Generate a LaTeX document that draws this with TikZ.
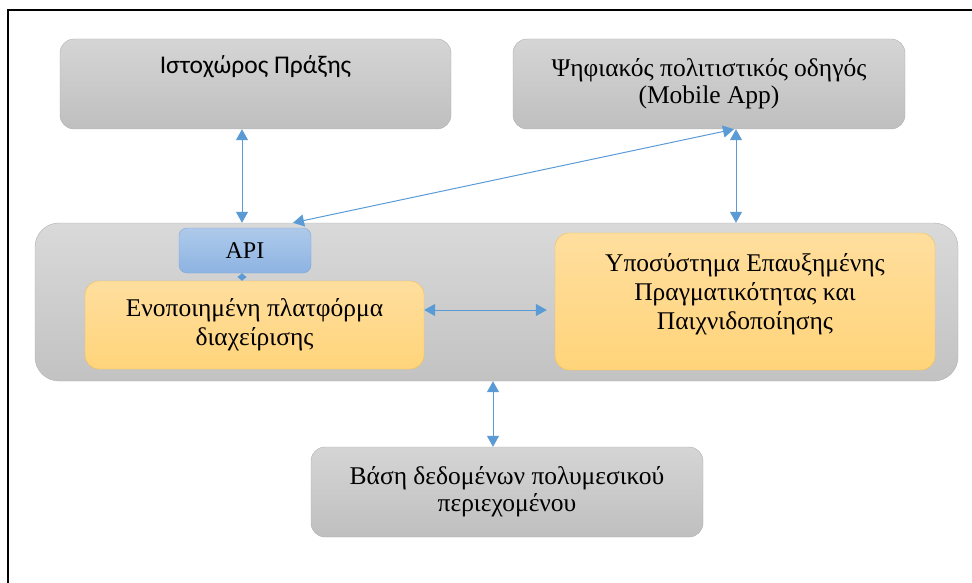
\documentclass[tikz,border=0pt]{standalone}
\usepackage{fontspec}
\setmainfont{Liberation Serif}
\newfontfamily\calibrifont{Carlito}
\usetikzlibrary{arrows.meta}

\definecolor{linkblue}{HTML}{5B9BD5}
\definecolor{greytop}{HTML}{D5D5D5}
\definecolor{greybot}{HTML}{BFBFBF}
\definecolor{greyline}{HTML}{AFAFAF}
\definecolor{yellowtop}{HTML}{FFDE9E}
\definecolor{yellowbot}{HTML}{FFD47A}
\definecolor{yellowline}{HTML}{F2C14E}
\definecolor{apitop}{HTML}{AECAEA}
\definecolor{apibot}{HTML}{8DB3E2}
\definecolor{apiline}{HTML}{7FA8DA}

\tikzset{
  greybox/.style={draw=greyline, top color=greytop, bottom color=greybot,
    rounded corners=14pt, align=center, font=\fontsize{25.5}{27}\selectfont},
  yellowbox/.style={draw=yellowline, top color=yellowtop, bottom color=yellowbot,
    rounded corners=14pt, align=center, font=\fontsize{25.5}{29}\selectfont},
  apibox/.style={draw=apiline, top color=apitop, bottom color=apibot,
    rounded corners=8pt, font=\fontsize{24}{26}\selectfont},
  link/.style={<->, linkblue, line width=1pt}
}

\begin{document}
\begin{tikzpicture}[x=1pt, y=-1pt, >={Triangle[length=11pt,width=12pt]}]
\useasboundingbox (0,0) rectangle (972,583);

% frame
\draw[line width=2.5pt] (8,583) -- (8,10) -- (972,10);

% top row
\node[greybox, minimum width=391pt, minimum height=90pt, text height=18pt, text depth=38pt,
  font=\calibrifont\fontsize{25.5}{28}\selectfont] (web) at (255.5,84) {Ιστοχώρος Πράξης};
\node[greybox, minimum width=392pt, minimum height=90pt] (app) at (709,84)
  {Ψηφιακός πολιτιστικός οδηγός\\(Mobile App)};

% middle container
\node[draw=greyline, top color=greytop!90!white, bottom color=greybot!95!white,
  rounded corners=24pt, minimum width=923pt, minimum height=158pt] (core) at (496.5,302) {};
\node[apibox, minimum width=132pt, minimum height=45pt] (api) at (245,250.5) {API};
\node[yellowbox, minimum width=339pt, minimum height=88pt] (platform) at (254.5,325)
  {Ενοποιημένη πλατφόρμα\\διαχείρισης};
\node[yellowbox, minimum width=380pt, minimum height=137pt, text depth=20pt] (ar) at (745,301.5)
  {Υποσύστημα Επαυξημένης\\Πραγματικότητας και\\Παιχνιδοποίησης};

% bottom
\node[greybox, minimum width=392pt, minimum height=90pt] (db) at (507,492)
  {Βάση δεδομένων πολυμεσικού\\περιεχομένου};

% links
\draw[link] ([xshift=-13.5pt]web.south) -- ([xshift=-13.5pt]web.south |- core.north);
\draw[link] ([xshift=27pt]app.south) -- ([xshift=27pt]app.south |- core.north);
\draw[link] ([xshift=25pt]app.south) -- ([xshift=48pt]api.north |- core.north);
\draw[link, {Triangle[length=4pt,width=9pt]}-{Triangle[length=4pt,width=9pt]}]
  ([xshift=-3pt]api.south) -- ([xshift=-3pt]api.south |- platform.north);
\draw[link, shorten >=8pt] ([yshift=15pt]platform.east) -- ([yshift=15pt]platform.east -| ar.west);
\draw[link] ([xshift=-14pt]db.north) -- ([xshift=-14pt]db.north |- core.south);
\end{tikzpicture}
\end{document}
